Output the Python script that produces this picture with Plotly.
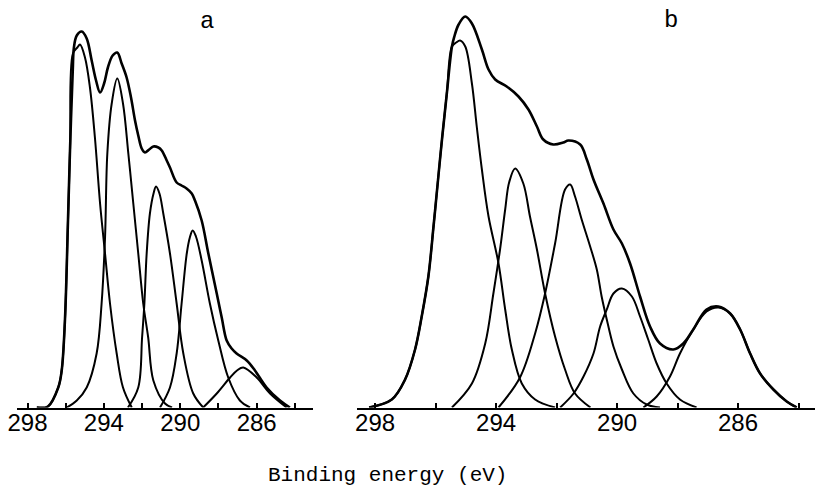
import plotly.graph_objects as go

# C1s spektrum, panel a: obalka + 5 komponent (binding energy eV, intenzita a.u.)
a_env_e = [297.52, 296.93, 296.39, 296.21, 296.04, 295.88, 295.77, 295.63, 295.57, 295.42, 295.16, 294.90,
           294.64, 294.41, 294.20, 293.99, 293.79, 293.54, 293.30, 293.07, 292.81, 292.58, 292.37, 292.20,
           292.02, 291.85, 291.63, 291.41, 291.15, 290.97, 290.71, 290.54, 290.19, 289.93, 289.67, 289.40,
           289.23, 288.88, 288.53, 288.09, 287.83, 287.57, 287.31, 287.05, 286.52, 286.09, 285.48, 284.78, 284.26]
a_env_i = [0, 1, 20, 37, 87, 187, 260, 337, 360, 372, 376, 369,
           347, 327, 315, 324, 340, 352, 355, 344, 330, 310, 287, 272,
           259, 255, 258, 261, 260, 257, 247, 240, 225, 222, 219, 214,
           207, 187, 154, 114, 90, 67, 59, 54, 47, 37, 20, 7, 0]

a_p1_e = [297.5, 296.93, 296.39, 296.21, 296.04, 295.88, 295.77, 295.62, 295.39, 295.25, 294.99, 294.73,
          294.47, 294.20, 293.94, 293.68, 293.33, 293.0, 292.54]
a_p1_i = [0, 1, 20, 37, 87, 187, 260, 354, 360, 363, 350, 320, 270, 204, 154, 104, 54, 20, 0]

a_p2_e = [295.95, 295.42, 294.90, 294.38, 294.12, 293.94, 293.82, 293.59, 293.30, 293.0, 292.72, 292.46,
          292.20, 291.94, 291.68, 291.41, 290.80, 290.43]
a_p2_i = [0, 7, 20, 54, 104, 170, 254, 304, 329, 304, 254, 204, 154, 104, 70, 27, 4, 0]

a_p3_e = [292.74, 292.20, 292.00, 291.88, 291.76, 291.59, 291.40, 291.27, 291.09, 290.89, 290.54, 290.19,
          289.84, 289.32, 288.80]
a_p3_i = [0, 20, 70, 104, 154, 194, 214, 221, 214, 194, 154, 104, 54, 14, 0]

a_p4_e = [291.06, 290.54, 290.19, 289.93, 289.66, 289.50, 289.35, 289.18, 288.88, 288.45, 288.01, 287.49,
          286.88, 286.35]
a_p4_i = [0, 20, 54, 104, 154, 170, 177, 171, 147, 104, 67, 30, 7, 0]

a_p5_e = [288.80, 288.09, 287.39, 287.03, 286.70, 286.00, 285.30, 284.43]
a_p5_i = [0, 14, 30, 37, 40, 30, 14, 0]

# panel b
b_env_e = [298.20, 297.45, 297.01, 296.68, 296.46, 296.24, 296.07, 295.91, 295.78, 295.63, 295.46, 295.38,
           295.24, 295.02, 294.80, 294.47, 294.25, 294.03, 293.65, 293.26, 292.93, 292.65, 292.44, 292.11,
           291.78, 291.61, 291.22, 291.00, 290.78, 290.45, 290.12, 289.84, 289.57, 289.24, 288.91, 288.58,
           288.14, 287.81, 287.48, 287.04, 286.65, 286.26, 285.93, 285.60, 285.27, 284.83, 284.39, 284.06]
b_env_i = [0, 8, 28, 58, 91, 131, 181, 231, 271, 314, 361, 371,
           383, 391, 384, 358, 338, 328, 321, 311, 298, 281, 268, 263,
           265, 267, 263, 248, 228, 204, 178, 164, 144, 111, 81, 64,
           58, 64, 78, 98, 101, 94, 78, 54, 34, 18, 6, 0]

b_p1_e = [298.20, 297.45, 297.01, 296.68, 296.46, 296.24, 296.07, 295.91, 295.78, 295.63, 295.46, 295.32,
          295.19, 295.02, 294.80, 294.64, 294.47, 294.25, 293.92, 293.70, 293.48, 293.15, 292.71, 292.05]
b_p1_i = [0, 8, 28, 58, 91, 131, 181, 231, 271, 314, 361, 365, 367, 361, 324, 281, 238, 191, 144, 98, 58, 24, 8, 0]

b_p2_e = [295.46, 294.80, 294.36, 294.09, 293.87, 293.70, 293.57, 293.37, 293.10, 292.88, 292.65, 292.38,
          292.05, 291.72, 291.39, 290.88]
b_p2_i = [0, 24, 64, 114, 158, 198, 225, 239, 224, 191, 158, 114, 71, 38, 14, 0]

b_p3_e = [293.92, 293.21, 292.71, 292.38, 292.05, 291.72, 291.55, 291.39, 291.17, 290.89, 290.67, 290.51,
          290.34, 290.12, 289.84, 289.46, 289.02, 288.58]
b_p3_i = [0, 30, 74, 114, 164, 218, 223, 211, 188, 161, 138, 111, 88, 61, 38, 14, 3, 0]

b_p4_e = [291.88, 291.44, 291.11, 290.78, 290.56, 290.34, 290.12, 289.84, 289.51, 289.24, 288.97, 288.69,
          288.36, 287.92, 287.37]
b_p4_i = [0, 14, 31, 54, 81, 98, 114, 119, 111, 91, 68, 44, 24, 8, 0]

b_p5_e = [289.13, 288.69, 288.25, 287.92, 287.48, 287.04, 286.65, 286.26, 285.93, 285.60, 285.27, 284.83,
          284.39, 284.06]
b_p5_i = [0, 11, 31, 54, 78, 96, 100, 94, 78, 54, 34, 18, 6, 0]

# osa x
tick_vals = [298, 296, 294, 292, 290, 288, 286, 284]
tick_text = ['298', '', '294', '', '290', '', '286', '']

# stranka ma 8px okraj (body margin), graf je o nej mensi
OFF = 8
W, H = 823 - OFF, 489 - OFF

fig = go.Figure()

panels = [
    ('x', 'y', [(a_env_e, a_env_i)], [(a_p1_e, a_p1_i), (a_p2_e, a_p2_i), (a_p3_e, a_p3_i),
                                      (a_p4_e, a_p4_i), (a_p5_e, a_p5_i)]),
    ('x2', 'y2', [(b_env_e, b_env_i)], [(b_p1_e, b_p1_i), (b_p2_e, b_p2_i), (b_p3_e, b_p3_i),
                                        (b_p4_e, b_p4_i), (b_p5_e, b_p5_i)]),
]

for xa, ya, envs, comps in panels:
    for e, i in comps:
        fig.add_trace(go.Scatter(x=e, y=i, mode='lines', xaxis=xa, yaxis=ya,
                                 line=dict(color='black', width=2.0, shape='spline', smoothing=1.0),
                                 showlegend=False, hoverinfo='skip'))
    for e, i in envs:
        fig.add_trace(go.Scatter(x=e, y=i, mode='lines', xaxis=xa, yaxis=ya,
                                 line=dict(color='black', width=2.6, shape='spline', smoothing=1.0),
                                 showlegend=False, hoverinfo='skip'))

tick_font = dict(family='Liberation Sans Narrow, Arial Narrow, Liberation Sans, sans-serif', size=24, color='black')
base_px = 407.5 - OFF
y_bottom = 1 - base_px / H

xaxis_common = dict(tickvals=tick_vals, ticktext=tick_text, ticks='inside', ticklen=5, tickwidth=1.5,
                    tickcolor='black', showline=True, linecolor='black', linewidth=2,
                    showgrid=False, zeroline=False, tickfont=tick_font, ticklabelstandoff=-7,
                    ticklabeloverflow='allow', automargin=False)

mono = 'Liberation Mono, Courier New, monospace'

fig.update_layout(
    width=W, height=H,
    margin=dict(l=0, r=0, t=0, b=0, autoexpand=False),
    paper_bgcolor='white', plot_bgcolor='white',
    xaxis=dict(domain=[(17 - OFF) / W, (313 - OFF) / W], range=[298.55, 283.05], anchor='y', **xaxis_common),
    xaxis2=dict(domain=[(357 - OFF) / W, 1.0], range=[298.6, 283.19], anchor='y2', **xaxis_common),
    yaxis=dict(domain=[y_bottom, 1], range=[0, base_px], visible=False, anchor='x'),
    yaxis2=dict(domain=[y_bottom, 1], range=[0, base_px], visible=False, anchor='x2'),
    annotations=[
        dict(text='a', x=(207 - OFF) / W, y=1 - (21.5 - OFF) / H, xref='paper', yref='paper',
             xanchor='center', yanchor='middle', showarrow=False,
             font=dict(family=mono, size=24, color='black')),
        dict(text='b', x=(671 - OFF) / W, y=1 - (20.5 - OFF) / H, xref='paper', yref='paper',
             xanchor='center', yanchor='middle', showarrow=False,
             font=dict(family=mono, size=24, color='black')),
        dict(text='Binding energy (eV)', x=(387.5 - OFF) / W, y=1 - (475 - OFF) / H, xref='paper', yref='paper',
             xanchor='center', yanchor='middle', showarrow=False,
             font=dict(family=mono, size=21, color='black')),
    ],
)

fig.write_html("out.html")
